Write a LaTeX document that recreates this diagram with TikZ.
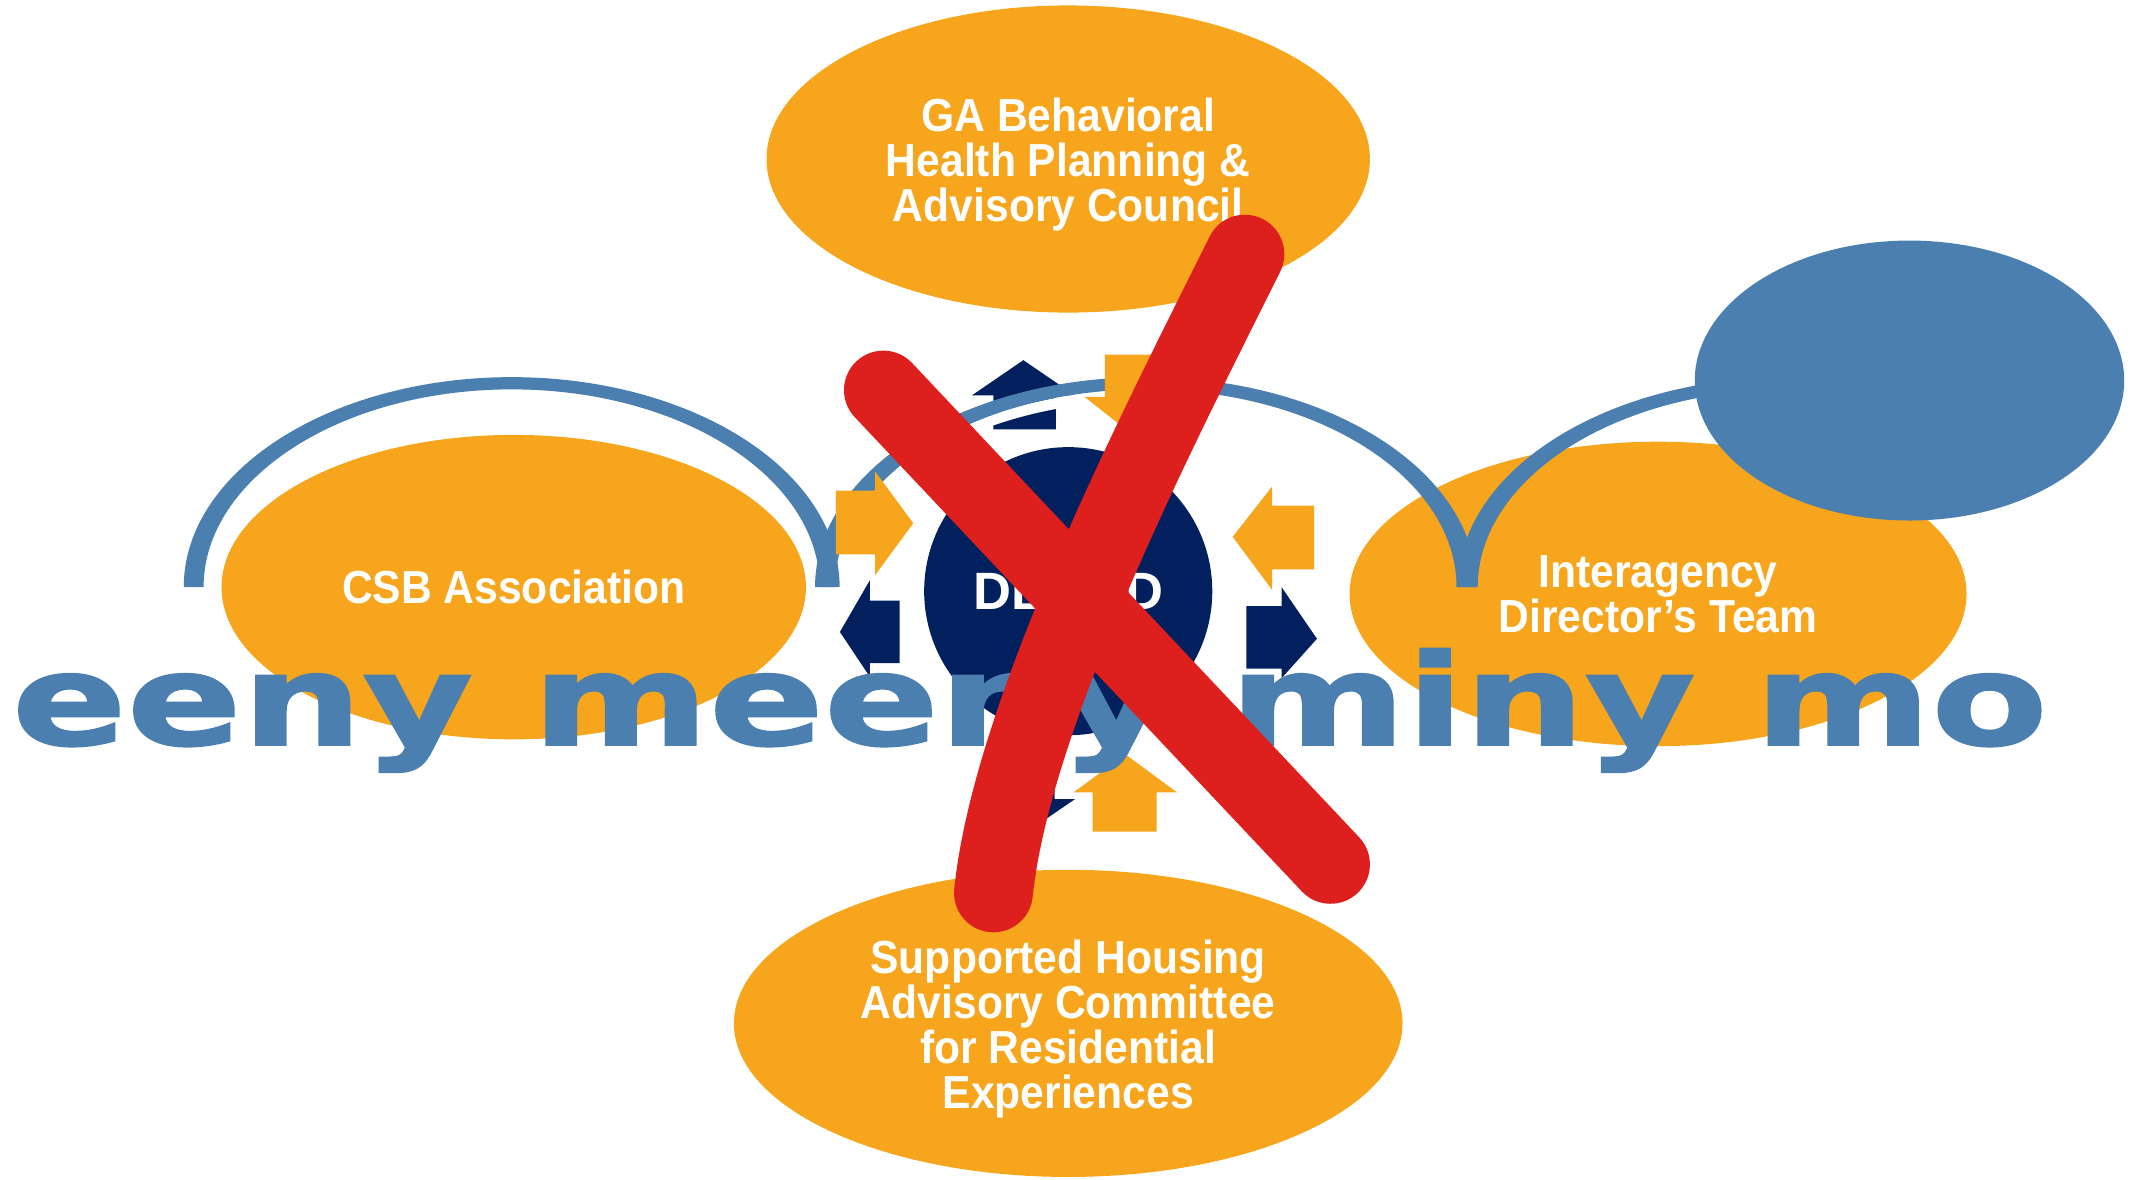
\documentclass[tikz,border=0pt]{standalone}
\usepackage{fontspec}
\setmainfont{Liberation Sans}
\newfontfamily\labelfont{Liberation Sans}[FakeStretch=0.92]
\newfontfamily\rhymefont{DejaVu Sans}[FakeStretch=1.34, FakeBold=1.6]
\usetikzlibrary{shapes.geometric}

\definecolor{gold}{HTML}{F7A51C}
\definecolor{steel}{HTML}{4A7FB0}
\definecolor{navy}{HTML}{03205E}
\definecolor{crossred}{HTML}{DD1F1D}

\tikzset{
  board/.style={ellipse, fill=gold, inner sep=0pt},
  boardtext/.style={text=white, inner sep=0pt, align=center,
    font=\labelfont\bfseries\fontsize{9.7}{9.4}\selectfont},
  ring/.style={fill=steel},
  inarrow/.style={fill=gold},
  outarrow/.style={fill=navy},
  cross/.style={crossred, line width=5.8mm, line cap=round}
}

\begin{document}
\begin{tikzpicture}[x=0.1mm,y=-0.1mm]
\useasboundingbox (0,0) rectangle (1568,868);

% the four boards
\node[board, minimum width=44.4mm, minimum height=22.6mm] (council) at (786,117) {};
\node[board, minimum width=43mm, minimum height=22.4mm] (csb) at (378,432) {};
\node[board, minimum width=45.4mm, minimum height=22.4mm] (team) at (1220,437) {};
\node[board, minimum width=49.2mm, minimum height=22.6mm] (housing) at (786,753) {};
\node[boardtext] (council text) at ([yshift=-0.4mm]council.center) {GA Behavioral\\Health Planning \&\\Advisory Council};
\node[boardtext] (csb text) at (csb.center) {CSB Association};
\node[boardtext] (team text) at (team.center) {Interagency\\Director’s Team};
\node[boardtext] (housing text) at ([yshift=-0.4mm]housing.center) {Supported Housing\\Advisory Committee\\for Residential\\Experiences};

% hub
\node[circle, fill=navy, minimum size=21.2mm, inner sep=0pt, text=white,
  font=\bfseries\fontsize{11}{11}\selectfont] (dbhdd) at (786,435) {DBHDD};

% arrows going out
\fill[outarrow] (731,316) -- (731,291) -- (715,291) -- (753,265) -- (791,291) -- (777,291) -- (777,316) -- cycle;
\fill[outarrow] (662,442) -- (640,442) -- (640,427) -- (618,465) -- (640,498) -- (640,488) -- (662,488) -- cycle;
\fill[outarrow] (917,446) -- (943,446) -- (943,432) -- (969,470) -- (943,499) -- (943,492) -- (917,492) -- cycle;
\fill[outarrow] (730,555) -- (776,555) -- (776,588) -- (791,588) -- (753,614) -- (715,588) -- (730,588) -- cycle;

% the arcs
\draw[white, line width=0.8mm] (691,326) arc[start angle=130, end angle=95, x radius=23.6mm, y radius=15mm];
\fill[ring] (135.2,432) arc[start angle=180, end angle=0, x radius=24.13mm, y radius=15.45mm]
  -- (603.2,432) arc[start angle=0, end angle=180, x radius=22.67mm, y radius=14.55mm] -- cycle;
\fill[ring] (599.7,432) arc[start angle=180, end angle=0, x radius=24.33mm, y radius=15.45mm]
  -- (1071.7,432) arc[start angle=0, end angle=180, x radius=22.87mm, y radius=14.55mm] -- cycle;
\fill[ring] (1072.7,432) arc[start angle=180, end angle=90, x radius=24.33mm, y radius=15.45mm]
  -- (1316,286.5) arc[start angle=90, end angle=180, x radius=22.87mm, y radius=14.55mm] -- cycle;

\node[ellipse, fill=steel, minimum width=31.6mm, minimum height=20.6mm, inner sep=0pt] (blob) at (1405,280) {};

% arrows coming in
\fill[inarrow] (813,261) -- (859,261) -- (859,292) -- (875,292) -- (836,322) -- (798,292) -- (813,292) -- cycle;
\fill[inarrow] (615,361) -- (644,361) -- (644,347) -- (672,385) -- (644,423) -- (644,408) -- (615,408) -- cycle;
\fill[inarrow] (967,372) -- (936,372) -- (936,358) -- (907,395) -- (936,434) -- (936,419) -- (967,419) -- cycle;
\fill[inarrow] (804,612) -- (804,583) -- (790,583) -- (828,555) -- (866,583) -- (851,583) -- (851,612) -- cycle;

\node[anchor=base west, inner sep=0pt, text=steel,
  font=\rhymefont\bfseries\fontsize{26.5}{26.5}\selectfont] (rhyme) at (8,548) {eeny meeny miny mo};

% crossed out
\draw[cross] (650,287) -- (979,636);
\draw[cross] (916,187) .. controls (860,300) and (745,520) .. (731,657);
\end{tikzpicture}
\end{document}
